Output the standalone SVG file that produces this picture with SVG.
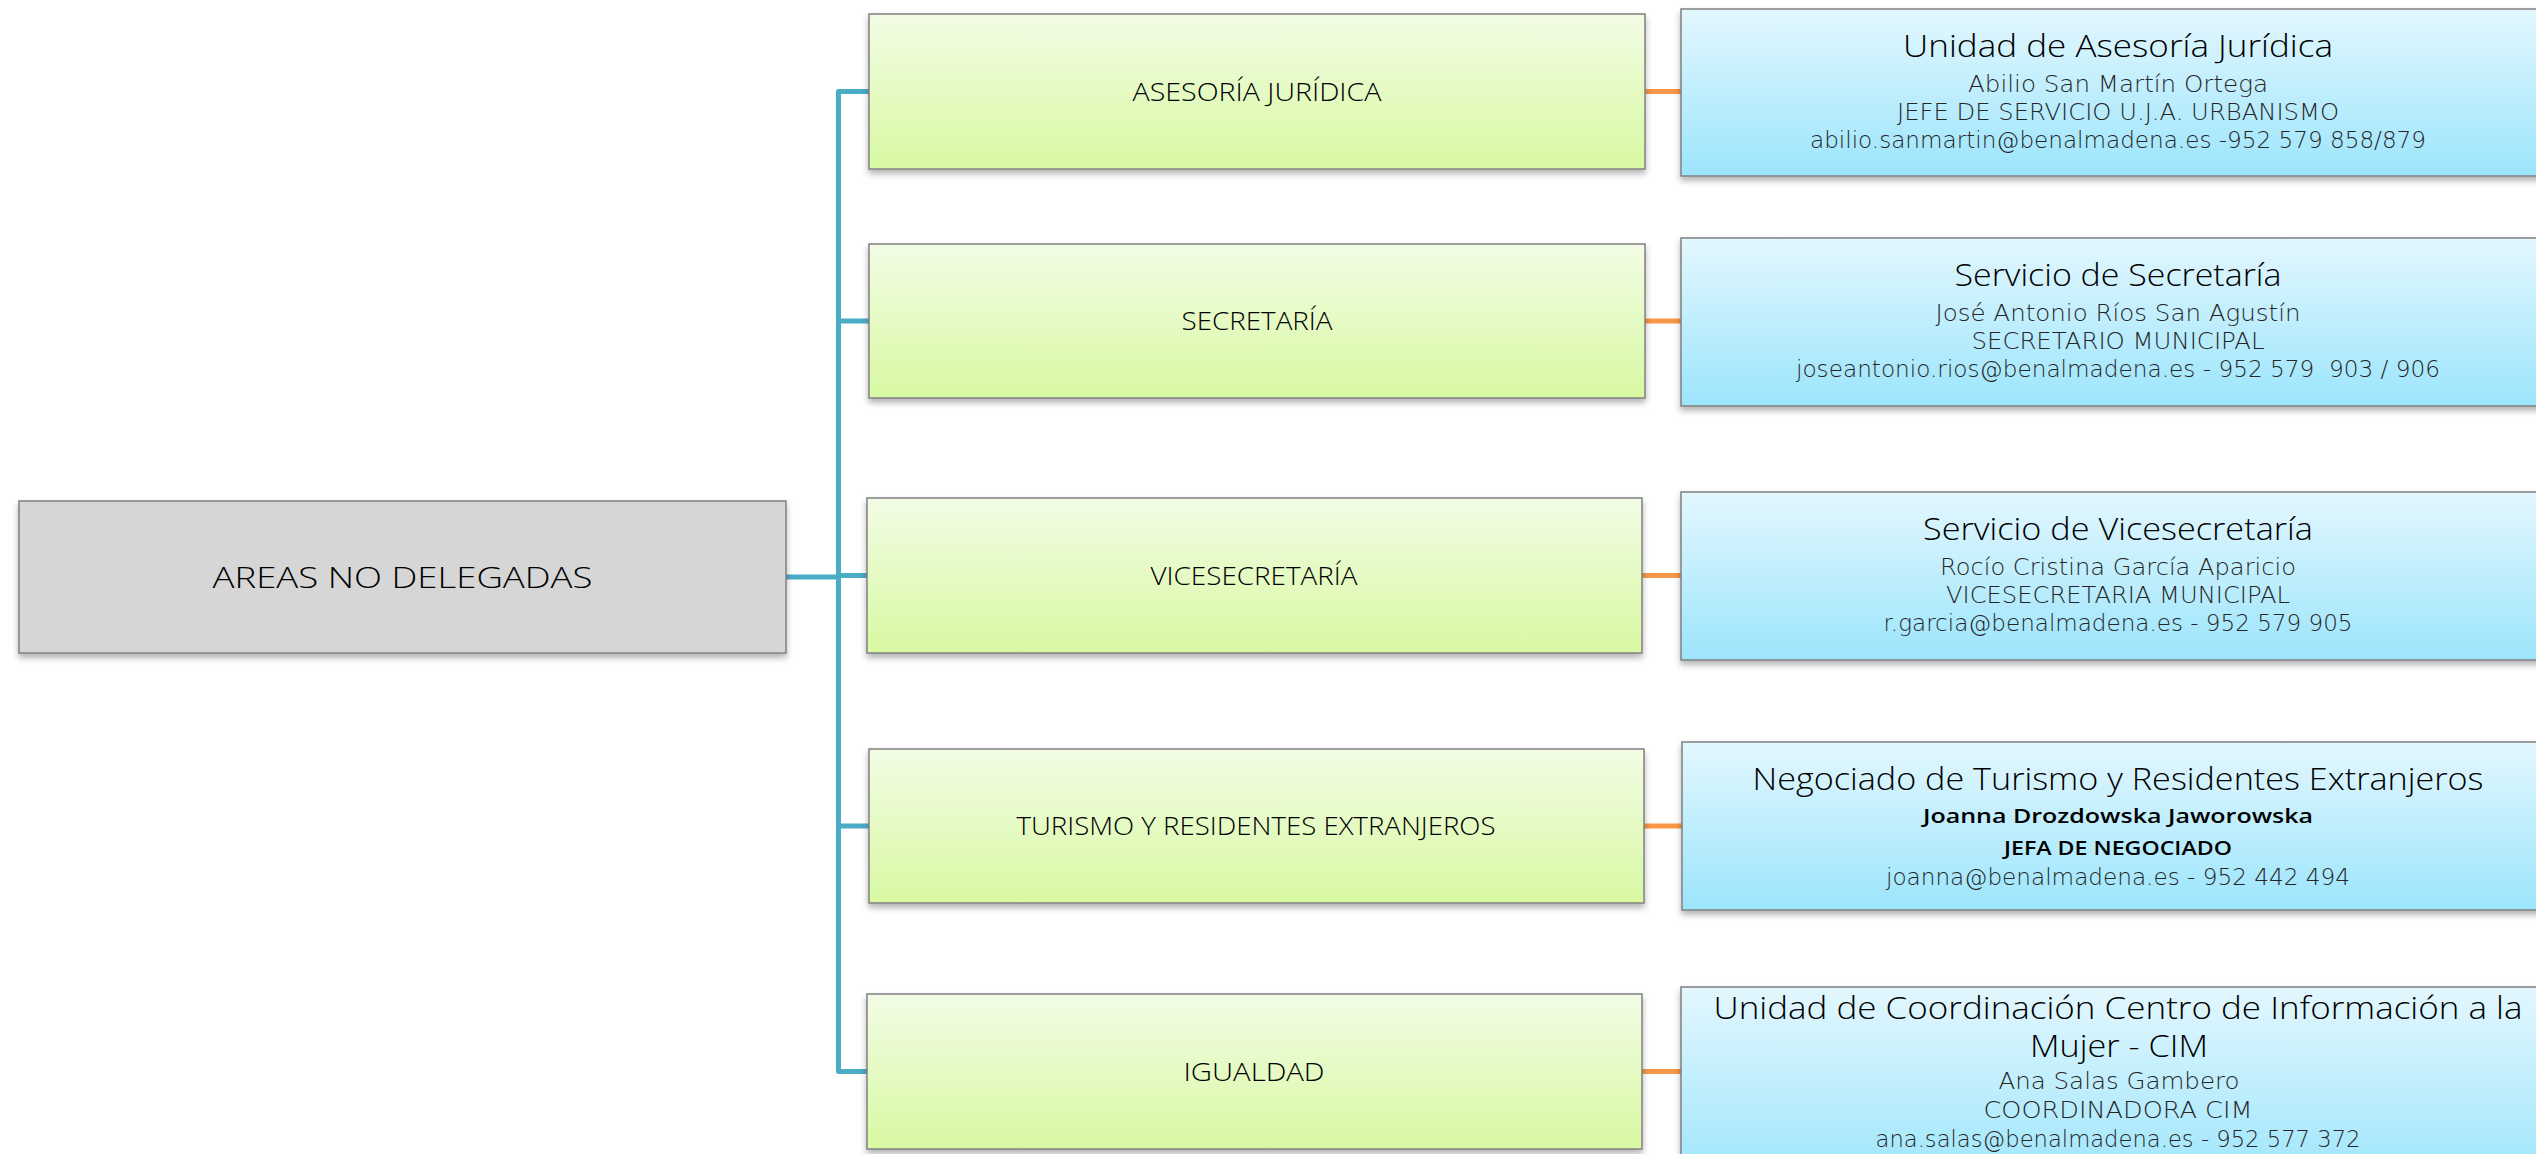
<svg xmlns="http://www.w3.org/2000/svg" width="2536" height="1154" viewBox="0 0 2536 1154">
<defs>
<linearGradient id="gGreen" x1="0" y1="0" x2="0" y2="1">
<stop offset="0" stop-color="#F2FCE5"/>
<stop offset="1" stop-color="#D8F9A2"/>
</linearGradient>
<linearGradient id="gBlue" x1="0" y1="0" x2="0" y2="1">
<stop offset="0" stop-color="#E3F7FE"/>
<stop offset="1" stop-color="#9CE5FC"/>
</linearGradient>
<filter id="sh" x="-5%" y="-10%" width="110%" height="130%">
<feDropShadow dx="0" dy="4" stdDeviation="3" flood-color="#000" flood-opacity="0.3"/>
</filter>
</defs>
<style>
.box{stroke:#808080;stroke-width:1.5;filter:url(#sh)}
.green{fill:url(#gGreen)}
.blue{fill:url(#gBlue)}
.root{fill:#D6D6D6}
.lbl{font-family:"Open Sans","Liberation Sans",sans-serif;font-weight:300;fill:#000;text-anchor:middle}
.t{font-size:32px}
.s{font-family:"DejaVu Sans","Liberation Sans",sans-serif;font-weight:200;font-size:23px;fill:#262626}
.b{font-family:"Open Sans","Liberation Sans",sans-serif;font-weight:600;font-size:20px;fill:#000;text-anchor:middle}
.g{font-size:26px}
.teal{fill:none;stroke:#4BACC6;stroke-width:5;stroke-linejoin:round}
.orange{fill:none;stroke:#F79646;stroke-width:5}
</style>
<rect width="2536" height="1154" fill="#FFFFFF"/>
<g id="connectors">
<path class="teal" d="M786,577 H838.5"/>
<path class="teal" d="M838.5,577 V91.5 H869"/>
<path class="teal" d="M838.5,577 V321 H869"/>
<path class="teal" d="M838.5,577 V575.5 H867"/>
<path class="teal" d="M838.5,577 V826 H869"/>
<path class="teal" d="M838.5,577 V1071.5 H867"/>
<path class="orange" d="M1645,91.5 H1681"/>
<path class="orange" d="M1645,321 H1681"/>
<path class="orange" d="M1642,575.5 H1681"/>
<path class="orange" d="M1644,826 H1682"/>
<path class="orange" d="M1642,1071.5 H1681"/>
</g>
<g id="root">
<rect class="box root" x="19" y="501" width="767" height="152"/>
<text class="lbl" x="402.5" y="588" font-size="30" textLength="380" lengthAdjust="spacingAndGlyphs">AREAS NO DELEGADAS</text>
</g>
<g id="asesoria">
<rect class="box green" x="869" y="14" width="776" height="155"/>
<text class="lbl g" x="1257" y="101" textLength="249" lengthAdjust="spacingAndGlyphs">ASESORÍA JURÍDICA</text>
</g>
<g id="secretaria">
<rect class="box green" x="869" y="244" width="776" height="154"/>
<text class="lbl g" x="1257" y="330" textLength="151" lengthAdjust="spacingAndGlyphs">SECRETARÍA</text>
</g>
<g id="vicesecretaria">
<rect class="box green" x="867" y="498" width="775" height="155"/>
<text class="lbl g" x="1254" y="585" textLength="207" lengthAdjust="spacingAndGlyphs">VICESECRETARÍA</text>
</g>
<g id="turismo">
<rect class="box green" x="869" y="749" width="775" height="154"/>
<text class="lbl g" x="1256" y="835" textLength="479" lengthAdjust="spacingAndGlyphs">TURISMO Y RESIDENTES EXTRANJEROS</text>
</g>
<g id="igualdad">
<rect class="box green" x="867" y="994" width="775" height="155"/>
<text class="lbl g" x="1254" y="1081" textLength="141" lengthAdjust="spacingAndGlyphs">IGUALDAD</text>
</g>
<g id="unidad-asesoria">
<rect class="box blue" x="1681" y="9" width="880" height="167"/>
<text class="lbl t" x="2118" y="57" textLength="430" lengthAdjust="spacingAndGlyphs">Unidad de Asesoría Jurídica</text>
<text class="lbl s" x="2118" y="92" textLength="300" lengthAdjust="spacingAndGlyphs">Abilio San Martín Ortega</text>
<text class="lbl s" x="2118" y="120" textLength="442" lengthAdjust="spacingAndGlyphs">JEFE DE SERVICIO U.J.A. URBANISMO</text>
<text class="lbl s" x="2118" y="148" textLength="616" lengthAdjust="spacingAndGlyphs">abilio.sanmartin@benalmadena.es -952 579 858/879</text>
</g>
<g id="servicio-secretaria">
<rect class="box blue" x="1681" y="238" width="880" height="168"/>
<text class="lbl t" x="2118" y="286" textLength="327" lengthAdjust="spacingAndGlyphs">Servicio de Secretaría</text>
<text class="lbl s" x="2118" y="321" textLength="365" lengthAdjust="spacingAndGlyphs">José Antonio Ríos San Agustín</text>
<text class="lbl s" x="2118" y="349" textLength="293" lengthAdjust="spacingAndGlyphs">SECRETARIO MUNICIPAL</text>
<text class="lbl s" x="2118" y="377" textLength="644" lengthAdjust="spacingAndGlyphs" xml:space="preserve">joseantonio.rios@benalmadena.es - 952 579  903 / 906</text>
</g>
<g id="servicio-vicesecretaria">
<rect class="box blue" x="1681" y="492" width="880" height="168"/>
<text class="lbl t" x="2118" y="540" textLength="390" lengthAdjust="spacingAndGlyphs">Servicio de Vicesecretaría</text>
<text class="lbl s" x="2118" y="575" textLength="356" lengthAdjust="spacingAndGlyphs">Rocío Cristina García Aparicio</text>
<text class="lbl s" x="2118" y="603" textLength="344" lengthAdjust="spacingAndGlyphs">VICESECRETARIA MUNICIPAL</text>
<text class="lbl s" x="2118" y="631" textLength="469" lengthAdjust="spacingAndGlyphs">r.garcia@benalmadena.es - 952 579 905</text>
</g>
<g id="negociado-turismo">
<rect class="box blue" x="1682" y="742" width="880" height="168"/>
<text class="lbl t" x="2118" y="790" textLength="731" lengthAdjust="spacingAndGlyphs">Negociado de Turismo y Residentes Extranjeros</text>
<text class="b" x="2118" y="823" textLength="390" lengthAdjust="spacingAndGlyphs">Joanna Drozdowska Jaworowska</text>
<text class="b" x="2118" y="855" textLength="228" lengthAdjust="spacingAndGlyphs">JEFA DE NEGOCIADO</text>
<text class="lbl s" x="2118" y="885" textLength="464" lengthAdjust="spacingAndGlyphs">joanna@benalmadena.es - 952 442 494</text>
</g>
<g id="unidad-cim">
<rect class="box blue" x="1681" y="987" width="880" height="200"/>
<text class="lbl t" x="2118" y="1019" textLength="809" lengthAdjust="spacingAndGlyphs">Unidad de Coordinación Centro de Información a la</text>
<text class="lbl t" x="2119" y="1057" textLength="178" lengthAdjust="spacingAndGlyphs">Mujer - CIM</text>
<text class="lbl s" x="2119" y="1089" textLength="241" lengthAdjust="spacingAndGlyphs">Ana Salas Gambero</text>
<text class="lbl s" x="2118" y="1118" textLength="269" lengthAdjust="spacingAndGlyphs">COORDINADORA CIM</text>
<text class="lbl s" x="2118" y="1147" textLength="485" lengthAdjust="spacingAndGlyphs">ana.salas@benalmadena.es - 952 577 372</text>
</g>
</svg>
